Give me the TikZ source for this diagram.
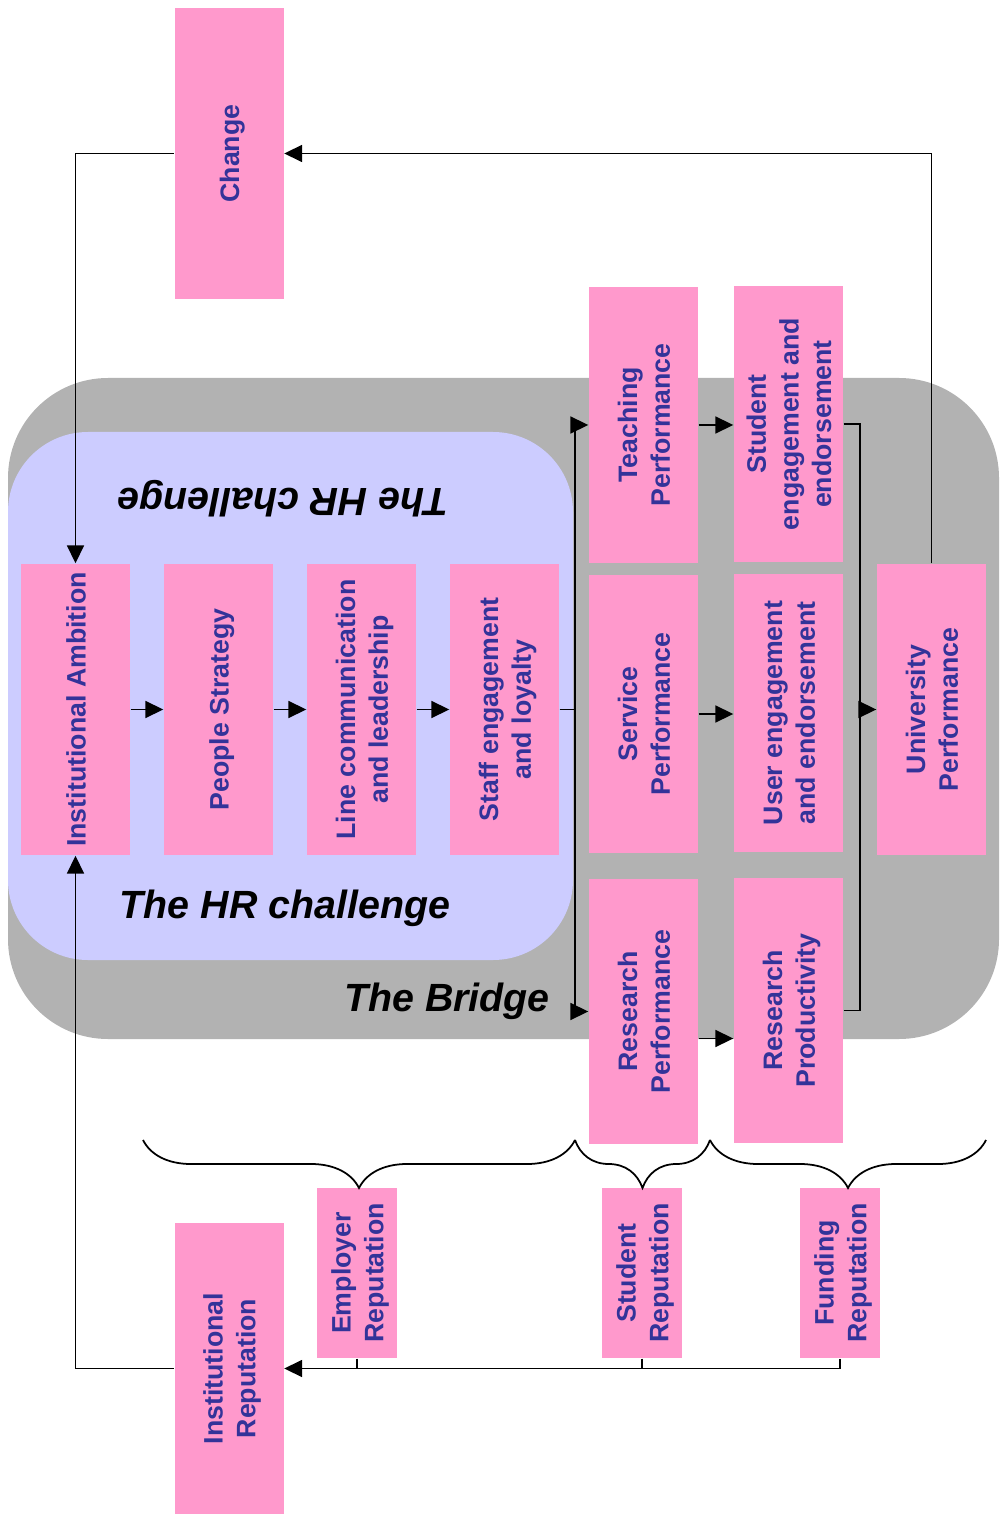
\documentclass[tikz,border=0pt]{standalone}
\usepackage{fontspec}
\setsansfont{Liberation Sans}
\usepackage{xcolor}
\usepackage{graphicx}
\usepackage{tikz}
\usetikzlibrary{arrows.meta,positioning,decorations.pathreplacing}

\definecolor{boxpink}{HTML}{FF99CC}
\definecolor{boxtext}{HTML}{333399}
\definecolor{bridgegrey}{HTML}{B2B2B2}
\definecolor{hrblue}{HTML}{CCCCFF}

% upright text in the tall boxes
\newcommand{\vtext}[1]{\rotatebox{90}{\raisebox{-0.35mm}[\height][\depth]{\begin{tabular}{@{}c@{}}#1\end{tabular}}}}

\begin{document}
\begin{tikzpicture}[node distance=1.43cm]
    % Define styles
    \tikzstyle{factor} = [rectangle, inner sep=0pt, minimum width=1.09cm, minimum height=2.91cm, fill=boxpink, text=boxtext, font=\sffamily\bfseries\fontsize{7.6}{9.3}\selectfont]
    \tikzstyle{rep} = [factor, minimum width=0.8cm, minimum height=1.7cm]
    \tikzstyle{heading} = [font=\sffamily\bfseries\itshape\fontsize{11.2}{13}\selectfont]
    \tikzstyle{arrow} = [line width=0.5pt, -{Triangle[length=1.8mm,width=1.7mm]}]
    \tikzstyle{link} = [line width=0.5pt]
    \tikzstyle{groupbrace} = [line width=0.5pt, decorate, decoration={brace, mirror, amplitude=4.8mm}]

    \useasboundingbox (0,0) rectangle (10.01,-15.28);

    % Bridge and HR regions
    \fill[bridgegrey, rounded corners=1cm] (0.08,-3.78) rectangle (9.99,-10.39);
    \fill[hrblue, rounded corners=0.8cm] (0.08,-4.32) rectangle (5.73,-9.60);
    \node[heading, rotate=180] (hrtop) at (2.83,-4.99) {The HR challenge};
    \node[heading] (hrbottom) at (2.85,-9.08) {The HR challenge};
    \node[heading] (bridge) at (4.47,-10.01) {The Bridge};

    % Nodes
    \node[factor] (change) at (2.29,-1.535) {\vtext{Change}};
    \node[factor] (ambition) at (0.755,-7.095) {\vtext{Institutional Ambition}};
    \node[factor, right of=ambition] (strategy) {\vtext{People Strategy}};
    \node[factor, right of=strategy] (line) {\vtext{Line communication\\and leadership}};
    \node[factor, right of=line] (staff) {\vtext{Staff engagement\\and loyalty}};

    \node[factor, minimum height=2.76cm] (teaching) at (6.435,-4.25) {\vtext{Teaching\\Performance}};
    \node[factor, minimum height=2.76cm] (studeng) at (7.885,-4.24) {\vtext{Student\\engagement and\\endorsement}};
    \node[factor, minimum height=2.78cm] (service) at (6.435,-7.14) {\vtext{Service\\Performance}};
    \node[factor, minimum height=2.78cm] (usereng) at (7.885,-7.13) {\vtext{User engagement\\and endorsement}};
    \node[factor, minimum height=2.65cm] (research) at (6.435,-10.115) {\vtext{Research\\Performance}};
    \node[factor, minimum height=2.65cm] (productivity) at (7.885,-10.105) {\vtext{Research\\Productivity}};
    \node[factor] (university) at (9.315,-7.095) {\vtext{University\\Performance}};

    \node[rep] (employer) at (3.57,-12.73) {\vtext{Employer\\Reputation}};
    \node[rep] (student) at (6.42,-12.73) {\vtext{Student\\Reputation}};
    \node[rep] (funding) at (8.40,-12.73) {\vtext{Funding\\Reputation}};
    \node[factor] (instrep) at (2.29,-13.685) {\vtext{Institutional\\Reputation}};

    % Arrows
    \draw[arrow] (ambition) -- (strategy);
    \draw[arrow] (strategy) -- (line);
    \draw[arrow] (line) -- (staff);
    \coordinate (split) at (5.75,-7.095);
    \draw[link] (staff) -- (split);
    \draw[arrow] (split) |- (teaching);
    \draw[arrow] (split) |- (research);
    \draw[arrow] (teaching.east) -- (teaching.east -| studeng.west);
    \draw[arrow] (service.east) -- (service.east -| usereng.west);
    \draw[arrow] ([yshift=-2.7mm]research.east) -- ([yshift=-2.7mm]research.east -| productivity.west);
    \coordinate (merge) at (8.60,-7.095);
    \draw[link] (studeng.east) -| (merge);
    \draw[link] (productivity.east) -| (merge);
    \draw[arrow] (merge) -- (university);

    % Feedback loops
    \draw[arrow] (university.north) |- (change.east);
    \draw[arrow] (change.west) -| (ambition.north);
    \draw[arrow] (instrep.west) -| (ambition.south);
    \draw[link] (employer.south) -- (employer.south |- instrep.east);
    \draw[link] (student.south) -- (student.south |- instrep.east);
    \draw[arrow] (funding.south) |- (instrep.east);

    % Braces
    \draw[groupbrace] (1.43,-11.40) -- (5.75,-11.40);
    \draw[groupbrace] (5.75,-11.40) -- (7.10,-11.40);
    \draw[groupbrace] (7.10,-11.40) -- (9.86,-11.40);
\end{tikzpicture}
\end{document}
